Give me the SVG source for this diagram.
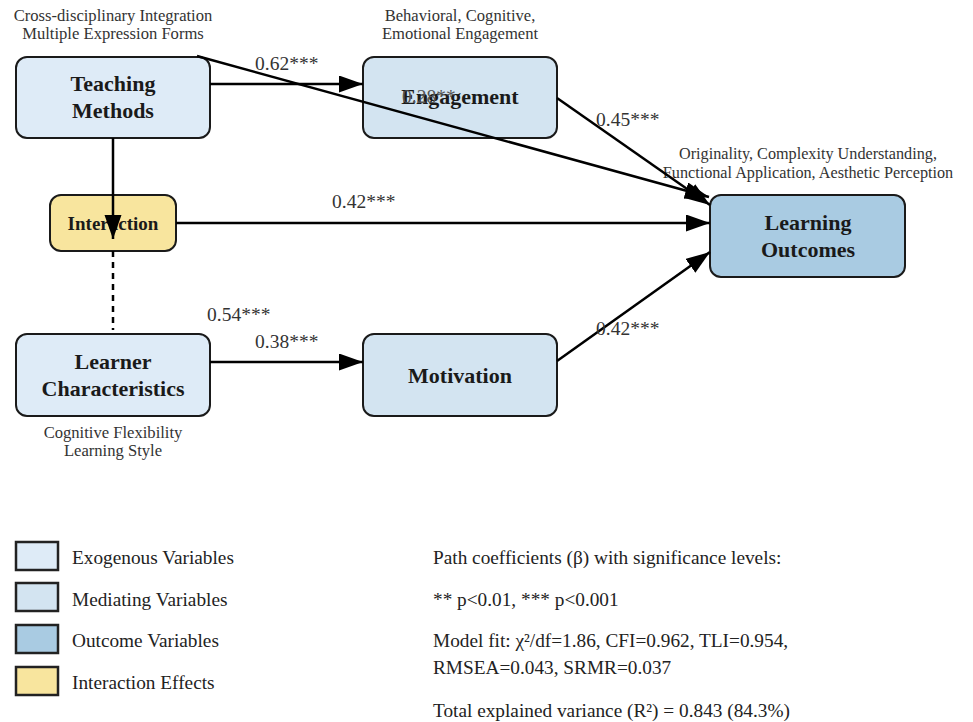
<svg xmlns="http://www.w3.org/2000/svg" width="973" height="722" viewBox="0 0 973 722">
<style>
.node{stroke:#1a1a1a;stroke-width:2}
.exo{fill:#deebf7}.med{fill:#d3e4f1}.out{fill:#a9cbe2}.int{fill:#f8e59e}
.nt{font-family:"Liberation Serif",serif;font-weight:bold;font-size:22px;fill:#1a1a1a;text-anchor:middle}
.ann{font-family:"Liberation Serif",serif;font-size:16.6px;fill:#333;text-anchor:middle}
.lab{font-family:"Liberation Serif",serif;font-size:19.5px;fill:#333}
.edge{stroke:#000;stroke-width:2.5;fill:none}
.leg{font-family:"Liberation Serif",serif;font-size:19.3px;fill:#222}
.lbox{stroke:#222;stroke-width:2.5}
</style>
<defs>
<marker id="arr" markerUnits="userSpaceOnUse" markerWidth="26" markerHeight="20" refX="24" refY="8.5" orient="auto">
<path d="M0,0 L24,8.5 L0,17 Z" fill="#000"/>
</marker>
</defs>
<rect width="973" height="722" fill="#fff"/>

<g id="teaching-methods">
<rect class="node exo" x="16" y="57" width="194" height="81" rx="11"/>
<text class="nt" x="113" y="91">Teaching<tspan x="113" dy="27">Methods</tspan></text>
<text class="ann" x="113" y="21">Cross-disciplinary Integration<tspan x="113" dy="18">Multiple Expression Forms</tspan></text>
</g>
<g id="engagement">
<rect class="node med" x="363" y="57" width="194" height="81" rx="11"/>
<text class="nt" x="460" y="104">Engagement</text>
<text class="ann" x="460" y="21">Behavioral, Cognitive,<tspan x="460" dy="18">Emotional Engagement</tspan></text>
</g>
<g id="learning-outcomes">
<rect class="node out" x="710" y="195" width="195" height="82" rx="11"/>
<text class="nt" x="808" y="230">Learning<tspan x="808" dy="27">Outcomes</tspan></text>
<text class="ann" x="808" y="159" style="font-size:16.2px">Originality, Complexity Understanding,<tspan x="808" dy="18.5">Functional Application, Aesthetic Perception</tspan></text>
</g>
<g id="interaction">
<rect class="node int" x="50" y="195" width="126" height="56" rx="11"/>
<text class="nt" x="113" y="230" style="font-size:19px">Interaction</text>
</g>
<g id="learner-characteristics">
<rect class="node exo" x="16" y="334" width="194" height="82" rx="11"/>
<text class="nt" x="113" y="369">Learner<tspan x="113" dy="27">Characteristics</tspan></text>
<text class="ann" x="113" y="438">Cognitive Flexibility<tspan x="113" dy="18">Learning Style</tspan></text>
</g>
<g id="motivation">
<rect class="node med" x="363" y="334" width="194" height="82" rx="11"/>
<text class="nt" x="460" y="383">Motivation</text>
</g>

<g id="connectors">
<line class="edge" x1="210" y1="84" x2="363" y2="84" marker-end="url(#arr)"/>
<line class="edge" x1="197" y1="56" x2="709" y2="197" marker-end="url(#arr)"/>
<line class="edge" x1="557" y1="98" x2="710" y2="205" marker-end="url(#arr)"/>
<line class="edge" x1="176" y1="223" x2="710" y2="223" marker-end="url(#arr)"/>
<line class="edge" x1="113" y1="138" x2="113" y2="239" marker-end="url(#arr)"/>
<line class="edge" x1="113" y1="251" x2="113" y2="330" stroke-dasharray="6,5"/>
<line class="edge" x1="210" y1="362" x2="363" y2="362" marker-end="url(#arr)"/>
<line class="edge" x1="557" y1="361" x2="710" y2="252" marker-end="url(#arr)"/>
<text class="lab" x="255" y="70">0.62***</text>
<text class="lab" x="402" y="103" style="fill:#555">0.28**</text>
<text class="lab" x="596" y="126">0.45***</text>
<text class="lab" x="332" y="208">0.42***</text>
<text class="lab" x="207" y="321">0.54***</text>
<text class="lab" x="255" y="348">0.38***</text>
<text class="lab" x="596" y="335">0.42***</text>
</g>

<g id="legend">
<rect class="lbox exo" x="16" y="542" width="42" height="28"/>
<text class="leg" x="72" y="564">Exogenous Variables</text>
<rect class="lbox med" x="16" y="583" width="42" height="28"/>
<text class="leg" x="72" y="606">Mediating Variables</text>
<rect class="lbox out" x="16" y="625" width="42" height="28"/>
<text class="leg" x="72" y="647">Outcome Variables</text>
<rect class="lbox int" x="16" y="667" width="42" height="28"/>
<text class="leg" x="72" y="689">Interaction Effects</text>
</g>
<g id="notes">
<text class="leg" x="433" y="564">Path coefficients (β) with significance levels:</text>
<text class="leg" x="433" y="606">** p&lt;0.01, *** p&lt;0.001</text>
<text class="leg" x="433" y="647">Model fit: χ²/df=1.86, CFI=0.962, TLI=0.954,<tspan x="433" dy="27">RMSEA=0.043, SRMR=0.037</tspan></text>
<text class="leg" x="433" y="717">Total explained variance (R²) = 0.843 (84.3%)</text>
</g>
</svg>
